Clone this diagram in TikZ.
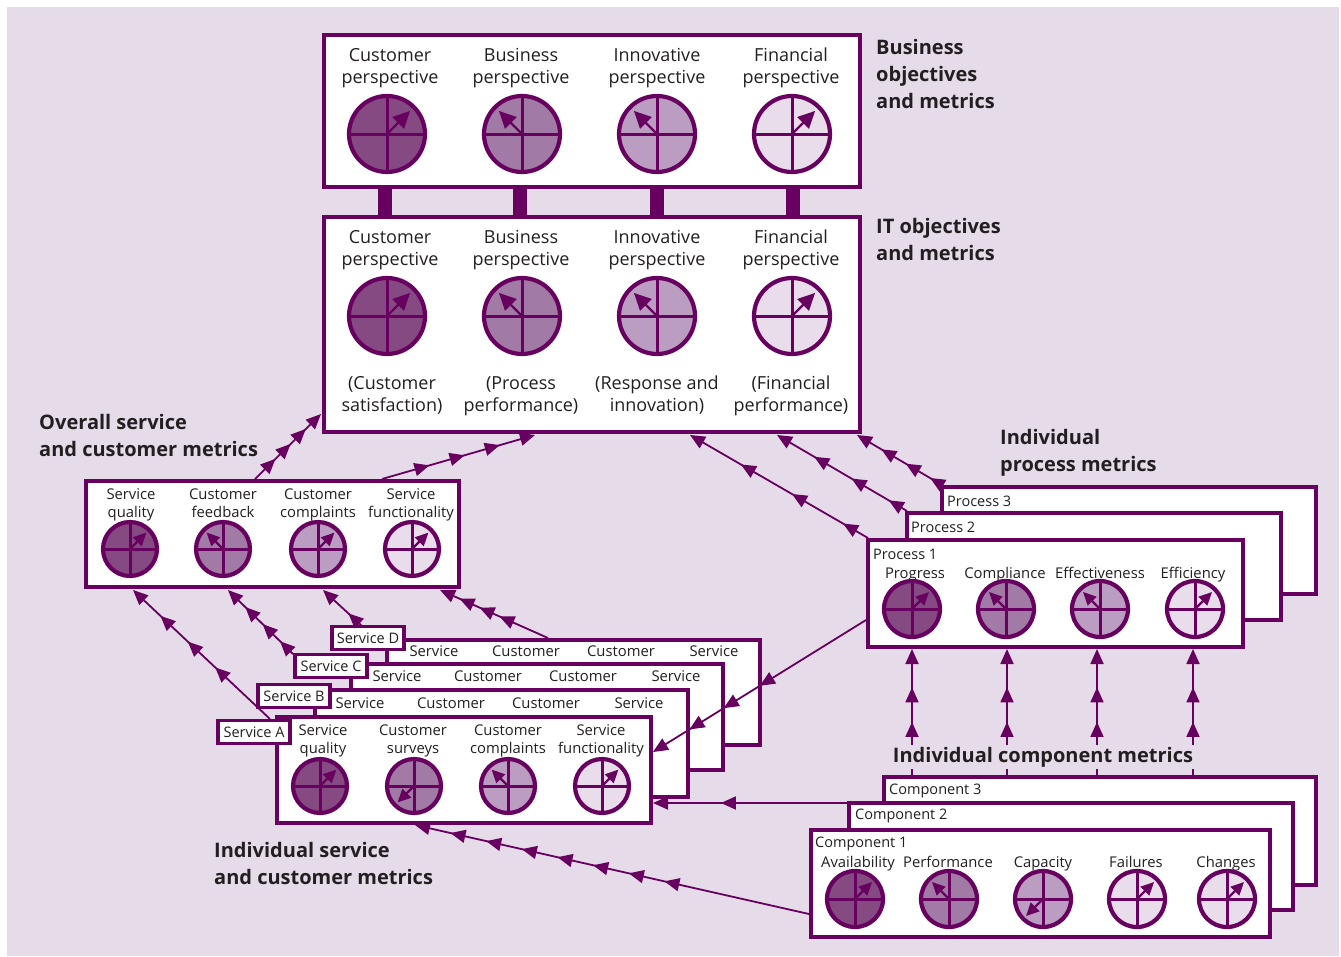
\documentclass[tikz,border=0pt]{standalone}
\usepackage{fontspec}
\setmainfont{Open Sans}
\usetikzlibrary{arrows.meta,decorations.markings}
\definecolor{bg}{RGB}{230,219,233}
\definecolor{pur}{RGB}{104,0,96}
\definecolor{ca}{RGB}{134,74,130}
\definecolor{cb}{RGB}{161,122,165}
\definecolor{cc}{RGB}{187,157,193}
\definecolor{cd}{RGB}{233,221,236}
\definecolor{txt}{RGB}{35,31,32}
\newcommand{\mcirc}[7]{%
  \fill[#4] (#1,#2) circle[radius=#3];
  \draw[pur, line width=3pt] ({#1-#3},#2) -- ({#1+#3},#2) (#1,{#2-#3}) -- (#1,{#2+#3});
  \draw[pur, line width=2.4pt, -{Triangle[length=#6,width=#7]}] (#1,#2) -- ++(#5:{0.86*#3});
  \draw[pur, line width=4.2pt] (#1,#2) circle[radius=#3];
}
\tikzset{
  tri/.tip={Triangle[length=15pt,width=13pt]},
  box/.style={draw=pur, line width=4pt, fill=white, anchor=north west, inner sep=0pt, outer sep=0pt},
  tag/.style={draw=pur, line width=3.5pt, fill=white, minimum width=72pt, minimum height=23pt, inner sep=0pt, text=txt, font=\fontsize{14.5}{17}\selectfont},
  lbl/.style={text=txt, align=center, inner sep=0pt, font=\fontsize{18}{22}\selectfont, execute at begin node=\strut, execute at end node=\strut},
  sml/.style={text=txt, align=center, inner sep=0pt, font=\fontsize{14.8}{18.5}\selectfont, execute at begin node=\strut, execute at end node=\strut},
  ttl/.style={text=txt, anchor=west, inner sep=0pt, font=\fontsize{14.5}{17}\selectfont},
  head/.style={text=txt, align=left, anchor=west, inner sep=0pt, font=\fontsize{20}{27}\selectfont\bfseries},
  bar/.style={draw=pur, line width=14pt},
  conn/.style={draw=pur, color=pur, line width=1.8pt, -{tri}},
  ma/.style={postaction={decorate, decoration={markings, mark=between positions #1 with {\arrow{tri}}}}},
}
\begin{document}
\begin{tikzpicture}[x=1pt,y=-1pt]
\useasboundingbox (0,0) rectangle (1341,956);
\fill[white] (0,0) rectangle (1341,956);
\fill[bg] (7,7) rectangle (1339,956);

% ---------- bars between business and IT boxes
\foreach \i/\x in {1/385,2/520,3/657,4/793}{
  \coordinate (bt\i) at (\x,187);
  \coordinate (bb\i) at (\x,217);
  \draw[bar] (bt\i) -- (bb\i);
}

% ---------- Business objectives box
\node[box, minimum width=536pt, minimum height=152pt] (top) at (324,35) {};
\node[lbl] (t1) at (390,69) {Customer\\perspective};
\node[lbl] (t2) at (521,69) {Business\\perspective};
\node[lbl] (t3) at (657,69) {Innovative\\perspective};
\node[lbl] (t4) at (791,69) {Financial\\perspective};
\mcirc{387}{134}{38}{ca}{-45}{17pt}{16pt}
\mcirc{522}{134}{38}{cb}{-135}{17pt}{16pt}
\mcirc{657}{134}{38}{cc}{-135}{17pt}{16pt}
\mcirc{792}{134}{38}{cd}{-45}{17pt}{16pt}

% ---------- IT objectives box
\node[box, minimum width=536pt, minimum height=215pt] (it) at (324,217) {};
\node[lbl] (i1) at (390,251) {Customer\\perspective};
\node[lbl] (i2) at (521,251) {Business\\perspective};
\node[lbl] (i3) at (657,251) {Innovative\\perspective};
\node[lbl] (i4) at (791,251) {Financial\\perspective};
\mcirc{387}{316}{38}{ca}{-45}{17pt}{16pt}
\mcirc{522}{316}{38}{cb}{-135}{17pt}{16pt}
\mcirc{657}{316}{38}{cc}{-135}{17pt}{16pt}
\mcirc{792}{316}{38}{cd}{-45}{17pt}{16pt}
\node[lbl] (j1) at (392,397) {(Customer\\satisfaction)};
\node[lbl] (j2) at (521,397) {(Process\\performance)};
\node[lbl] (j3) at (657,397) {(Response and\\innovation)};
\node[lbl] (j4) at (791,397) {(Financial\\performance)};

% ---------- headings
\node[head] (hbus) at (876,74) {Business\\objectives\\and metrics};
\node[head] (hit) at (876,239) {IT objectives\\and metrics};
\node[head] (hov) at (39,435) {Overall service\\and customer metrics};
\node[head] (hpr) at (1000,453) {Individual\\process metrics};
\node[head] (hsv) at (214,863) {Individual service\\and customer metrics};

% ---------- Overall service box
\node[box, minimum width=373pt, minimum height=106pt] (ov) at (86,481) {};
\node[sml] (o1) at (131,506) {Service\\quality};
\node[sml] (o2) at (223,506) {Customer\\feedback};
\node[sml] (o3) at (318,506) {Customer\\complaints};
\node[sml] (o4) at (411,506) {Service\\functionality};
\mcirc{130}{549}{27}{ca}{-45}{13pt}{12pt}
\mcirc{223}{549}{27}{cb}{-135}{13pt}{12pt}
\mcirc{318}{549}{27}{cc}{-45}{13pt}{12pt}
\mcirc{412}{549}{27}{cd}{-45}{13pt}{12pt}

% ---------- Service boxes D, C, B, A
\node[box, minimum width=373pt, minimum height=105pt] (sD) at (387,640) {};
\node[tag] (tD) at (368,638) {Service D};
\node[sml] (d1) at (434,653) {Service};
\node[sml] (d2) at (526,653) {Customer};
\node[sml] (d3) at (621,653) {Customer};
\node[sml] (d4) at (714,653) {Service};

\node[box, minimum width=372pt, minimum height=106pt] (sC) at (351,664) {};
\node[tag] (tC) at (331,666) {Service C};
\node[sml] (e1) at (397,678) {Service};
\node[sml] (e2) at (488,678) {Customer};
\node[sml] (e3) at (583,678) {Customer};
\node[sml] (e4) at (676,678) {Service};

\node[box, minimum width=373pt, minimum height=107pt] (sB) at (315,690) {};
\node[tag] (tB) at (294,696) {Service B};
\node[sml] (f1) at (360,705) {Service};
\node[sml] (f2) at (451,705) {Customer};
\node[sml] (f3) at (546,705) {Customer};
\node[sml] (f4) at (639,705) {Service};

\node[box, minimum width=374pt, minimum height=106pt] (sA) at (277,717) {};
\node[tag] (tA) at (254,732) {Service A};
\node[sml] (a1) at (323,742) {Service\\quality};
\node[sml] (a2) at (413,742) {Customer\\surveys};
\node[sml] (a3) at (508,742) {Customer\\complaints};
\node[sml] (a4) at (601,742) {Service\\functionality};
\mcirc{320}{786}{27}{ca}{-45}{13pt}{12pt}
\mcirc{414}{786}{27}{cb}{135}{13pt}{12pt}
\mcirc{508}{786}{27}{cc}{-135}{13pt}{12pt}
\mcirc{602}{786}{27}{cd}{-45}{13pt}{12pt}

% ---------- Process boxes
\node[box, minimum width=374pt, minimum height=107pt] (p3) at (942,487) {};
\node[ttl] (p3t) at (947,501) {Process 3};
\node[box, minimum width=374pt, minimum height=107pt] (p2) at (907,513) {};
\node[ttl] (p2t) at (911,527) {Process 2};
\node[box, minimum width=375pt, minimum height=107pt] (p1) at (868,540) {};
\node[ttl] (p1t) at (873,554) {Process 1};
\node[sml] (q1) at (915,575) {Progress};
\node[sml] (q2) at (1005,575) {Compliance};
\node[sml] (q3) at (1100,575) {Effectiveness};
\node[sml] (q4) at (1193,575) {Efficiency};
\mcirc{912}{609}{28}{ca}{-45}{13pt}{12pt}
\mcirc{1006}{609}{28}{cb}{-135}{13pt}{12pt}
\mcirc{1100}{609}{28}{cc}{-135}{13pt}{12pt}
\mcirc{1195}{609}{28}{cd}{-45}{13pt}{12pt}

% ---------- Component boxes
\node[box, minimum width=432pt, minimum height=108pt] (k3) at (884,777) {};
\node[ttl] (k3t) at (889,791) {Component 3};
\node[box, minimum width=444pt, minimum height=107pt] (k2) at (849,803) {};
\node[ttl] (k2t) at (855,816) {Component 2};
\node[box, minimum width=459pt, minimum height=107pt] (k1) at (811,830) {};
\node[ttl] (k1t) at (815,844) {Component 1};
\node[sml] (m1) at (858,864) {Availability};
\node[sml] (m2) at (948,864) {Performance};
\node[sml] (m3) at (1043,864) {Capacity};
\node[sml] (m4) at (1136,864) {Failures};
\node[sml] (m5) at (1226,864) {Changes};
\mcirc{855}{899}{28}{ca}{-45}{13pt}{12pt}
\mcirc{949}{899}{28}{cb}{-135}{13pt}{12pt}
\mcirc{1043}{899}{28}{cc}{135}{13pt}{12pt}
\mcirc{1137}{899}{28}{cd}{-45}{13pt}{12pt}
\mcirc{1227}{899}{28}{cd}{-45}{13pt}{12pt}

% ---------- connector end points
\coordinate (ov1s) at (255,479);  \coordinate (ov1e) at (321,414);
\coordinate (ov2s) at (382,479);  \coordinate (ov2e) at (535,435);
\coordinate (pr1s) at (868,538);  \coordinate (pr1e) at (690,435);
\coordinate (pr2s) at (907,511);  \coordinate (pr2e) at (777,435);
\coordinate (pr3s) at (942,485);  \coordinate (pr3e) at (857,435);
\coordinate (sv1s) at (270,719);  \coordinate (sv1e) at (133,590);
\coordinate (sv2s) at (293,654);  \coordinate (sv2e) at (228,590);
\coordinate (sv3s) at (362,626);  \coordinate (sv3e) at (323,590);
\coordinate (sv4s) at (548,638);  \coordinate (sv4e) at (440,590);
\coordinate (pss) at (866,620);   \coordinate (pse) at (653,752);
\coordinate (c2s) at (847,803);   \coordinate (c2e) at (653,803);
\coordinate (c1s) at (809,914);   \coordinate (c1e) at (415,825);

% ---------- connectors
\draw[conn, ma={0.31 and 0.78 step 0.23}] (ov1s) -- (ov1e);
\draw[conn, ma={0.31 and 0.78 step 0.23}] (ov2s) -- (ov2e);
\draw[conn, ma={0.14 and 0.72 step 0.287}] (pr1s) -- (pr1e);
\draw[conn, ma={0.14 and 0.72 step 0.287}] (pr2s) -- (pr2e);
\draw[conn, ma={0.14 and 0.72 step 0.287}] (pr3s) -- (pr3e);
\draw[conn, ma={0.4 and 0.81 step 0.2}] (sv1s) -- (sv1e);
\draw[conn, ma={0.2 and 0.74 step 0.267}] (sv2s) -- (sv2e);
\draw[conn, ma={0.35 and 0.68 step 0.33}] (sv3s) -- (sv3e);
\draw[conn, ma={0.45 and 0.83 step 0.185}] (sv4s) -- (sv4e);
\draw[conn, postaction={decorate, decoration={markings,
   mark=at position 0.498 with {\arrow{tri}},
   mark=at position 0.668 with {\arrow{tri}},
   mark=at position 0.829 with {\arrow{tri}}}}] (pss) -- (pse);
\draw[conn, ma={0.65 and 0.66 step 0.1}] (c2s) -- (c2e);
\draw[conn, ma={0.367 and 0.92 step 0.0905}] (c1s) -- (c1e);
\foreach \i/\x in {1/912,2/1007,3/1097,4/1193}{
  \coordinate (vs\i) at (\x,777);
  \coordinate (ve\i) at (\x,649);
  \draw[conn, ma={0.43 and 0.71 step 0.27}] (vs\i) -- (ve\i);
}
\node[head, anchor=center, fill=bg, inner ysep=2pt, inner xsep=1pt] (hco) at (1043,757) {Individual component metrics};
\end{tikzpicture}
\end{document}
